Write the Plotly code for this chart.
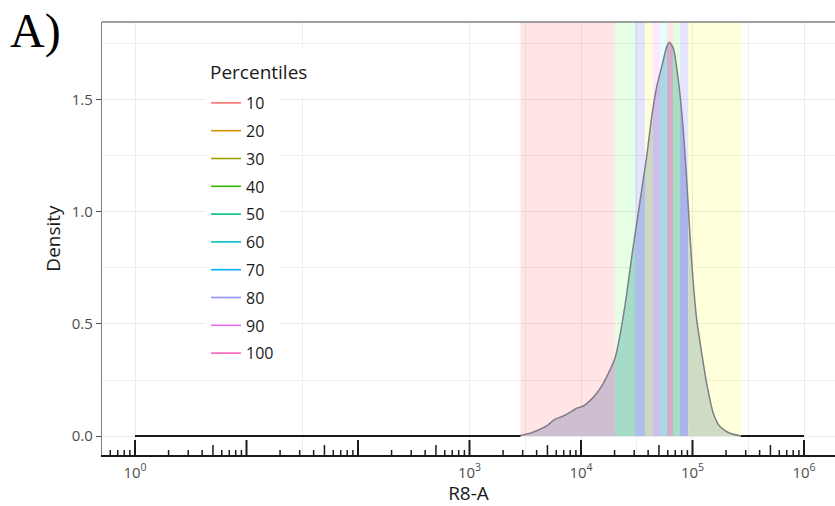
import numpy as np
import plotly.graph_objects as go

# ---------------- data ----------------
r8a = [1, 2700, 2938, 3491, 4285, 4920, 5848, 6714, 7691, 9141, 10495, 12050,
       13836, 15849, 18197, 20184, 22387, 25704, 28510, 31623, 34995, 38815,
       43053, 47753, 52966, 58749, 61944, 67298, 74645, 82604, 88716, 95060,
       101625, 109144, 121061, 133968, 153815, 176604, 216770, 272000, 1000000]
density = [0, 0, 0.004, 0.012, 0.030, 0.045, 0.075, 0.086, 0.101, 0.124, 0.134,
           0.158, 0.191, 0.235, 0.295, 0.347, 0.45, 0.635, 0.80, 0.95, 1.098,
           1.247, 1.425, 1.559, 1.649, 1.738, 1.758, 1.731, 1.589, 1.366, 1.143,
           0.89, 0.682, 0.518, 0.369, 0.235, 0.101, 0.042, 0.012, 0, 0]

# percentile boundaries (R8-A values): 0,10,20,...,100 %
pct_bounds = [2866, 20180, 30500, 37500, 44200, 51100, 59000, 66800, 77300,
              91650, 272300]
pct_labels = ["10", "20", "30", "40", "50", "60", "70", "80", "90", "100"]
legend_colors = ["#F8766D", "#D89000", "#A3A500", "#39B600", "#00BF7D",
                 "#00BFC4", "#00B0F6", "#9590FF", "#E76BF3", "#FF62BC"]
band_light = ["rgba(255,0,0,0.10)", "rgba(0,255,0,0.10)", "rgba(0,0,255,0.10)",
              "rgba(255,255,0,0.14)", "rgba(255,0,255,0.09)", "rgba(0,255,255,0.10)",
              "rgba(255,0,0,0.10)", "rgba(0,255,0,0.10)", "rgba(0,0,255,0.10)",
              "rgba(255,255,0,0.14)"]
band_under = ["#CDBED2", "#A5DCC8", "#AFBEEB", "#CDD7C3", "#CDBEEB",
              "#AAD7E4", "#D2ACC8", "#A5DEC3", "#A8B4EB", "#CDDCC3"]

xtick_vals = [1, 1e3, 1e4, 1e5, 1e6]
xtick_text = ["10<sup>0</sup>", "10<sup>3</sup>", "10<sup>4</sup>",
              "10<sup>5</sup>", "10<sup>6</sup>"]
xminor_vals = [10 ** 1.5, 10 ** 3.5, 10 ** 4.5, 10 ** 5.5]
ytick_vals = [0, 0.5, 1.0, 1.5]
ytick_text = ["0.0", "0.5", "1.0", "1.5"]
yminor_vals = [0.25, 0.75, 1.25, 1.75]

# ---------------- figure ----------------
X_RANGE = [-0.296, 6.278]
Y_RANGE = [-0.0848, 1.848]
W, H = 835, 506
ML, MR, MT, MB = 102, 0, 22, 51
PLOT_W = W - ML - MR
PLOT_H = H - MT - MB


def px_x(p):
    return (p - ML) / PLOT_W


def px_y(p):
    return (H - MB - p) / PLOT_H


lx = np.log10(np.array(r8a, dtype=float))
dy = np.array(density, dtype=float)
lb = np.log10(np.array(pct_bounds, dtype=float))

fig = go.Figure()

# light full-height percentile bands
for i in range(len(pct_labels)):
    lo, hi = lb[i], lb[i + 1]
    fig.add_trace(go.Scatter(
        x=[lo, hi, hi, lo, lo], y=[0, 0, Y_RANGE[1], Y_RANGE[1], 0],
        mode="lines", line=dict(width=0), fill="toself",
        fillcolor=band_light[i], hoverinfo="skip", showlegend=False))

# density area under the curve, per band
for i in range(len(pct_labels)):
    lo, hi = lb[i], lb[i + 1]
    m = (lx > lo) & (lx < hi)
    xs = np.concatenate([[lo], lx[m], [hi]])
    ys = np.concatenate([[np.interp(lo, lx, dy)], dy[m], [np.interp(hi, lx, dy)]])
    fig.add_trace(go.Scatter(
        x=xs, y=ys, mode="lines", line=dict(width=0, shape="spline", smoothing=0.6),
        fill="tozeroy", fillcolor=band_under[i], hoverinfo="skip", showlegend=False))

# density outline within the percentile range
m = (lx >= lb[0] - 0.1) & (lx <= lb[-1])
fig.add_trace(go.Scatter(
    x=lx[m], y=dy[m], mode="lines",
    line=dict(color="#7f7f88", width=1.5, shape="spline", smoothing=0.6),
    hoverinfo="skip", showlegend=False))

# black density line where density is ~0 (outside the bands)
mL = lx <= lb[0]
fig.add_trace(go.Scatter(
    x=np.concatenate([lx[mL], [lb[0]]]), y=np.concatenate([dy[mL], [0]]),
    mode="lines", line=dict(color="#1a1a1a", width=2),
    hoverinfo="skip", showlegend=False))
mR = lx >= lb[-1]
fig.add_trace(go.Scatter(
    x=np.concatenate([[lb[-1]], lx[mR]]), y=np.concatenate([[0], dy[mR]]),
    mode="lines", line=dict(color="#1a1a1a", width=2),
    hoverinfo="skip", showlegend=False))

# legend entries
for lab, col in zip(pct_labels, legend_colors):
    fig.add_trace(go.Scatter(
        x=[None], y=[None], mode="lines", name=lab, legendgroup=lab,
        line=dict(color=col, width=1.6)))

# log tick annotations on bottom
shapes = []
for k in range(-1, 7):
    for d in range(1, 10):
        v = np.log10(d) + k
        if X_RANGE[0] + 0.005 < v < X_RANGE[1]:
            ln = 15 if d == 1 else (10 if d == 5 else 5)
            shapes.append(dict(type="line", xref="x", yref="paper",
                               x0=v, x1=v, y0=0, y1=ln / PLOT_H,
                               line=dict(color="#1a1a1a", width=2 if d == 1 else 1.5)))
# top border of panel
shapes.append(dict(type="line", xref="paper", yref="paper", x0=0, x1=1, y0=1, y1=1,
                   line=dict(color="#808080", width=1.3)))

FONT = "Open Sans"
fig.update_layout(
    width=W, height=H,
    margin=dict(l=ML, r=MR, t=MT, b=MB, pad=0),
    paper_bgcolor="white", plot_bgcolor="white",
    font=dict(family=FONT, color="#1a1a1a"),
    shapes=shapes,
    showlegend=True,
    legend=dict(
        x=px_x(206), y=px_y(86),
        xanchor="left", yanchor="top",
        bgcolor="white", borderwidth=0,
        traceorder="grouped", tracegroupgap=4,
        font=dict(family=FONT, size=16, color="#1a1a1a"),
        itemwidth=30,
    ),
    xaxis=dict(
        range=X_RANGE, showgrid=True, gridcolor="#EBEBEB", gridwidth=1.1,
        zeroline=False,
        tickmode="array", tickvals=list(np.log10(xtick_vals)), ticktext=xtick_text,
        ticks="", ticklabelstandoff=3,
        tickfont=dict(family=FONT, size=15, color="#4d4d4d"),
        minor=dict(tickmode="array", tickvals=list(np.log10(xminor_vals)),
                   showgrid=True, gridcolor="#EFEFEF", gridwidth=0.8, ticks=""),
        showline=True, linecolor="#1a1a1a", linewidth=1.5,
        title=dict(text="R8-A", font=dict(family=FONT, size=19, color="#1a1a1a"),
                   standoff=4),
        automargin=False,
    ),
    yaxis=dict(
        range=Y_RANGE, showgrid=True, gridcolor="#EBEBEB", gridwidth=1.1,
        zeroline=False,
        tickmode="array", tickvals=ytick_vals, ticktext=ytick_text,
        ticks="outside", ticklen=5, tickwidth=1.2, tickcolor="#4d4d4d",
        tickfont=dict(family=FONT, size=15, color="#4d4d4d"),
        minor=dict(tickmode="array", tickvals=yminor_vals,
                   showgrid=True, gridcolor="#EFEFEF", gridwidth=0.8, ticks=""),
        showline=True, linecolor="#808080", linewidth=1.3,
        title=dict(text="Density", font=dict(family=FONT, size=19, color="#1a1a1a"),
                   standoff=6),
        automargin=False,
    ),
    annotations=[
        dict(text="A)", xref="paper", yref="paper",
             x=px_x(8), y=px_y(2), xanchor="left", yanchor="top", showarrow=False,
             font=dict(family="Liberation Serif", size=48, color="#000000")),
        dict(text="Percentiles", xref="paper", yref="paper",
             x=px_x(200), y=px_y(72), xanchor="left", yanchor="middle",
             showarrow=False, bgcolor="white", borderpad=9,
             font=dict(family=FONT, size=19, color="#1a1a1a")),
    ],
)

fig.write_html("out.html",
               config={"displayModeBar": False},
               post_script="document.body.style.margin='0';"
                           "document.body.style.overflow='hidden';")
